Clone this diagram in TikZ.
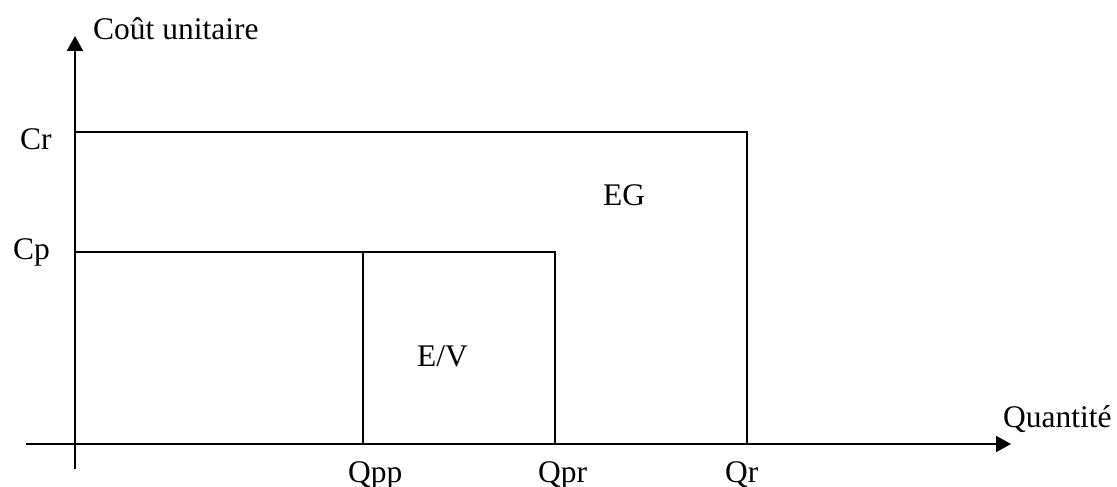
\documentclass[tikz,border=0pt]{standalone}
\usepackage{fontspec}
\setmainfont{Liberation Serif}
\usetikzlibrary{arrows.meta}
\begin{document}
\begin{tikzpicture}[x=1bp,y=-1bp,
  axis/.style={line width=2bp,-{Triangle[length=15bp,width=16bp]}},
  edge/.style={line width=2bp},
  lbl/.style={anchor=base west,inner sep=0pt,font=\fontsize{31.6}{36}\selectfont}]
\useasboundingbox (0,0) rectangle (1117,487);
% coordinates
\coordinate (O) at (75,444);
\coordinate (ybot) at (75,469);
\coordinate (ytop) at (75,36);
\coordinate (xleft) at (26,444);
\coordinate (xright) at (1011,444);
\coordinate (cr0) at (75,132);
\coordinate (cr1) at (747,132);
\coordinate (qr) at (747,444);
\coordinate (cp0) at (75,252);
\coordinate (cp1) at (555,252);
\coordinate (qpr) at (555,444);
\coordinate (ev0) at (363,252);
\coordinate (qpp) at (363,444);
% axes
\draw[axis] (ybot) -- (ytop);
\draw[axis] (xleft) -- (xright);
% rectangles
\draw[edge] (cr0) -- (cr1) -- (qr);
\draw[edge] (cp0) -- (cp1) -- (qpr);
\draw[edge] (ev0) -- (qpp);
% labels
\node[lbl] (lcu) at (93,40) {Coût unitaire};
\node[lbl] (lcr) at (20,150) {Cr};
\node[lbl] (lcp) at (13,260) {Cp};
\node[lbl] (leg) at (603,206) {EG};
\node[lbl] (lev) at (417,367) {E/V};
\node[lbl] (lq) at (1003,427) {Quantité};
\node[lbl] (lqpp) at (348,482) {Qpp};
\node[lbl] (lqpr) at (538,482) {Qpr};
\node[lbl] (lqr) at (725,482) {Qr};
\end{tikzpicture}
\end{document}
